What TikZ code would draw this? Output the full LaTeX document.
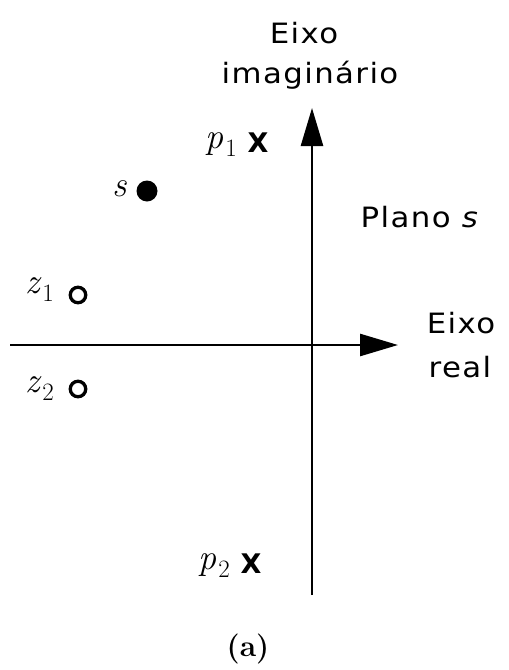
\documentclass[tikz,border=0pt]{standalone}
\usepackage{fontspec}
\setmainfont{DejaVu Sans}[FakeStretch=1.1,LetterSpace=5]
\newfontfamily\xfont{DejaVu Sans}
\newfontfamily\lmfont{Latin Modern Roman}
\usetikzlibrary{arrows.meta}
\newcommand{\mvar}[2]{{\lmfont\itshape #1}\kern2pt\raisebox{-8pt}{\fontsize{25}{25}\selectfont\lmfont #2}}
\begin{document}
\begin{tikzpicture}[x=1pt,y=-1pt,
  axis/.style={line width=2.6pt,-{Triangle[length=38pt,width=22pt]}},
  lbl/.style={font=\fontsize{28}{30}\selectfont,inner sep=0pt},
  mathlbl/.style={font=\fontsize{36}{36}\selectfont,inner sep=0pt,anchor=base east},
  polemark/.style={font=\fontsize{27}{30}\selectfont\xfont\bfseries,inner sep=0pt},
  zeromark/.style={circle,draw,line width=3.3pt,minimum size=15.5pt,inner sep=0pt},
  pointmark/.style={circle,fill,minimum size=21pt,inner sep=0pt}]
\useasboundingbox (0,0) rectangle (509,670);
% axes
\coordinate (hl) at (10,345);
\coordinate (hr) at (398,345);
\coordinate (vb) at (312,595);
\coordinate (vt) at (312,108);
\draw[axis] (hl) -- (hr);
\draw[axis] (vb) -- (vt);
% axis labels
\node[lbl] (ei1) at (304,33) {Eixo};
\node[lbl] (ei2) at (310,75) {imaginário};
\node[lbl] (er1) at (461,323) {Eixo};
\node[lbl] (er2) at (460,367) {real};
\node[lbl] (plano) at (420,217) {Plano \textit{s}};
% poles
\node[polemark] (x1) at (258,143) {X};
\node[mathlbl] (p1) at (237,148) {\mvar{p}{1}};
\node[polemark] (x2) at (251,564) {X};
\node[mathlbl] (p2) at (230,569) {\mvar{p}{2}};
% zeros
\node[zeromark] (c1) at (78,295) {};
\node[mathlbl] (z1) at (54,293) {\mvar{z}{1}};
\node[zeromark] (c2) at (78,389) {};
\node[mathlbl] (z2) at (54,392) {\mvar{z}{2}};
% point s
\node[pointmark] (sd) at (147,191) {};
\node[mathlbl] (sl) at (127,196) {{\lmfont\itshape s}};
% caption
\node[font=\fontsize{30}{30}\selectfont\lmfont\bfseries,inner sep=0pt] (cap) at (248,649) {(a)};
\end{tikzpicture}
\end{document}
